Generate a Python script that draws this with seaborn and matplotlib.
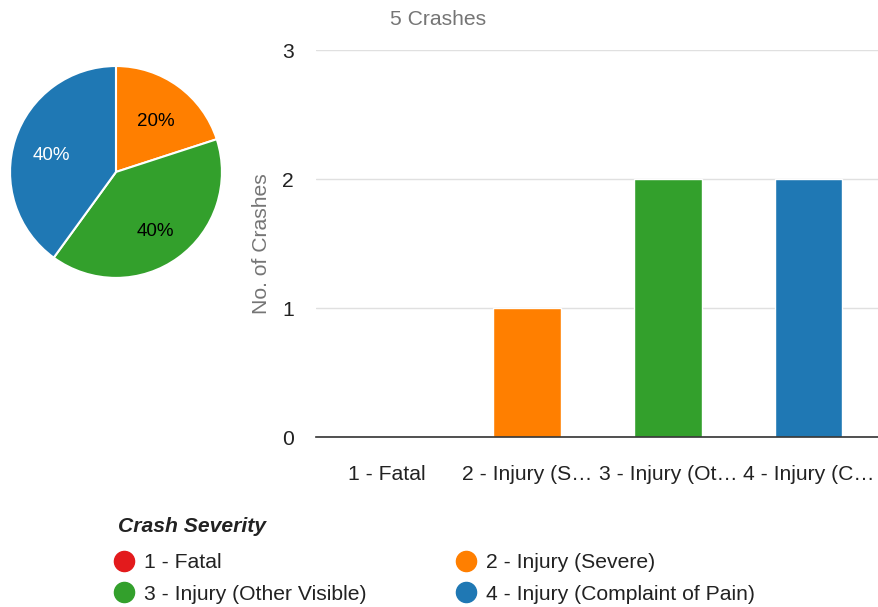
import matplotlib
matplotlib.use("Agg")
from matplotlib import pyplot as plt
from matplotlib.lines import Line2D
import pandas
import seaborn

severity = ["1 - Fatal", "2 - Injury (Severe)", "3 - Injury (Other Visible)", "4 - Injury (Complaint of Pain)"]
short_labels = ["1 - Fatal", "2 - Injury (S\u2026", "3 - Injury (Ot\u2026", "4 - Injury (C\u2026"]
crashes = [0, 1, 2, 2]
colors = ["#e31a1c", "#ff7f00", "#33a02c", "#1f78b4"]
pct_colors = ["black", "black", "black", "white"]

seaborn.set_style("white")
plt.rcParams['font.family'] = ['Liberation Sans', 'DejaVu Sans']
fs = 15.2

fig = plt.figure(figsize=(8.79, 6.07), dpi=100)

# pie, zero slices left out
ax_pie = fig.add_axes([0.0102, 0.5404, 0.2435, 0.3526])
pie_vals = [c for c in crashes if c > 0]
pie_cols = [col for c, col in zip(crashes, colors) if c > 0]
pie_txt = [tc for c, tc in zip(crashes, pct_colors) if c > 0]
wedges, texts, autotexts = ax_pie.pie(pie_vals, colors=pie_cols, startangle=90, counterclock=False,
	autopct='%1.0f%%', pctdistance=0.64, wedgeprops=dict(edgecolor='white', linewidth=1.5),
	textprops=dict(fontsize=13.5))
for t, c in zip(autotexts, pie_txt):
	t.set_color(c)
	x, y = t.get_position()
	t.set_position((x, y - 0.045))
ax_pie.set_xlim(-1.01, 1.01)
ax_pie.set_ylim(-1.01, 1.01)
ax_pie.set_aspect('equal')

# bars
ax = fig.add_axes([0.3595, 0.2800, 0.6405, 0.6376])
df = pandas.DataFrame({'Severity': severity, 'Crashes': crashes})
seaborn.barplot(df, x='Severity', y='Crashes', hue='Severity', palette=colors, order=severity,
	hue_order=severity, width=0.48, legend=False, ax=ax, saturation=1)
ax.set_ylim(0, 3)
ax.set_xlim(-0.5, 3.5)
ax.set_yticks([0, 1, 2, 3])
ax.yaxis.grid(True, color='#e0e0e0', linewidth=1)
ax.set_axisbelow(True)
for s in ['top', 'right', 'left']:
	ax.spines[s].set_visible(False)
ax.spines['bottom'].set_color('#333333')
ax.spines['bottom'].set_linewidth(1.2)
ax.set_xticks(range(len(short_labels)))
ax.set_xticklabels(short_labels)
ax.tick_params(axis='both', length=0, labelsize=fs, colors='#222222')
ax.tick_params(axis='y', pad=16)
ax.tick_params(axis='x', pad=20)
ax.set_xlabel("")
ax.set_ylabel("No. of Crashes", fontsize=fs, color='#757575', labelpad=8)
fig.text(0.498, 0.968, "5 Crashes", ha='center', va='center', fontsize=fs, color='#757575')

# legend, row-major order
fig.text(118 / 879, 1 - 526 / 607, "Crash Severity", ha='left', va='center', fontsize=fs,
	fontweight='bold', fontstyle='italic', color='#222222')
order = [0, 2, 1, 3]
handles = [Line2D([0], [0], marker='o', linestyle='', markersize=14.5, markerfacecolor=colors[i], markeredgecolor=colors[i]) for i in order]
leg = fig.legend(handles, [severity[i] for i in order], loc='lower left', bbox_to_anchor=(0.105, -0.026), ncol=2,
	frameon=False, fontsize=fs, handletextpad=0.35, columnspacing=4.1,
	labelspacing=0.6, handlelength=1.2)
for t in leg.get_texts():
	t.set_color('#222222')

fig.savefig("out.png", dpi=100)
